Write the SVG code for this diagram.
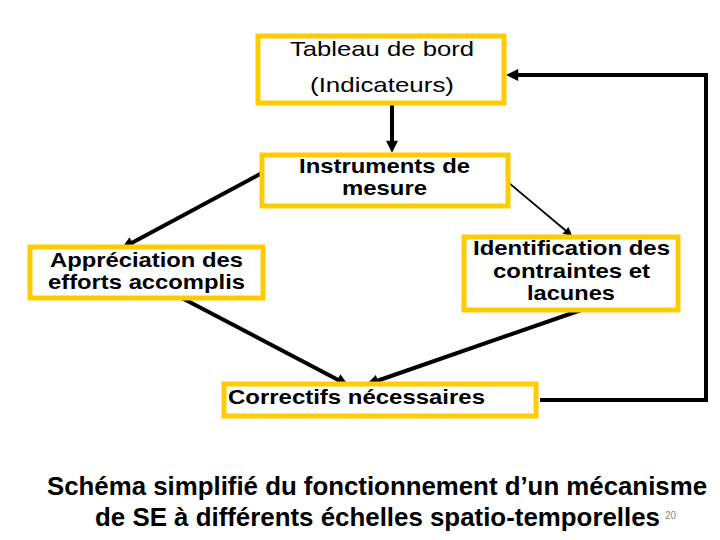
<svg xmlns="http://www.w3.org/2000/svg" width="720" height="540" viewBox="0 0 720 540">
<style>
.box{fill:#fff;stroke:#FFCC00;stroke-width:5}
.t{font-family:"Liberation Sans",Arial,sans-serif;font-size:21px;fill:#000}
.b{font-weight:bold}
.c{stroke:#000;fill:none;stroke-width:4}
.thin{stroke-width:1.8}
.cap{font-family:"Liberation Sans",Arial,sans-serif;font-weight:bold;font-size:26px;fill:#000}
</style>
<defs>
<marker id="ah" viewBox="0 0 10 10" refX="6" refY="5" markerWidth="14" markerHeight="12" markerUnits="userSpaceOnUse" orient="auto">
<path d="M0,0 L10,5 L0,10 z" fill="#000"/>
</marker>
<marker id="ahs" viewBox="0 0 10 10" refX="8" refY="5" markerWidth="11" markerHeight="9" markerUnits="userSpaceOnUse" orient="auto">
<path d="M0,0 L10,5 L0,10 z" fill="#000"/>
</marker>
</defs>
<rect width="720" height="540" fill="#fff"/>
<g id="connectors">
<line class="c" x1="392" y1="104" x2="392" y2="148" marker-end="url(#ah)"/>
<line class="c" x1="262" y1="173" x2="126" y2="246" marker-end="url(#ah)"/>
<line class="c thin" x1="503" y1="178" x2="571" y2="235" marker-end="url(#ahs)"/>
<line class="c" x1="180" y1="297" x2="344" y2="383" marker-end="url(#ah)"/>
<line class="c" x1="587" y1="308" x2="371" y2="383" marker-end="url(#ah)"/>
<polyline class="c" points="540,400 706,400 706,75 511,75" marker-end="url(#ah)"/>
</g>
<g id="tableau">
<rect class="box" x="258" y="36" width="246" height="67"/>
<text class="t" x="290" y="56" textLength="184" lengthAdjust="spacingAndGlyphs">Tableau de bord</text>
<text class="t" x="310" y="92" textLength="144" lengthAdjust="spacingAndGlyphs">(Indicateurs)</text>
</g>
<g id="instruments">
<rect class="box" x="262" y="155" width="246" height="51"/>
<text class="t b" x="299" y="173" textLength="171" lengthAdjust="spacingAndGlyphs">Instruments de</text>
<text class="t b" x="342" y="195" textLength="85" lengthAdjust="spacingAndGlyphs">mesure</text>
</g>
<g id="appreciation">
<rect class="box" x="30" y="247" width="233" height="51"/>
<text class="t b" x="50" y="267" textLength="193" lengthAdjust="spacingAndGlyphs">Appréciation des</text>
<text class="t b" x="48" y="289" textLength="197" lengthAdjust="spacingAndGlyphs">efforts accomplis</text>
</g>
<g id="identification">
<rect class="box" x="464" y="237" width="214" height="73"/>
<text class="t b" x="473" y="255" textLength="197" lengthAdjust="spacingAndGlyphs">Identification des</text>
<text class="t b" x="493" y="278" textLength="157" lengthAdjust="spacingAndGlyphs">contraintes et</text>
<text class="t b" x="527" y="300" textLength="88" lengthAdjust="spacingAndGlyphs">lacunes</text>
</g>
<g id="correctifs">
<rect class="box" x="224" y="384" width="312" height="32"/>
<text class="t b" x="228" y="404" textLength="257" lengthAdjust="spacingAndGlyphs">Correctifs nécessaires</text>
</g>
<g id="caption">
<text class="cap" x="47" y="495" textLength="660" lengthAdjust="spacingAndGlyphs">Schéma simplifié du fonctionnement d’un mécanisme</text>
<text class="cap" x="95" y="526" textLength="565" lengthAdjust="spacingAndGlyphs">de SE à différents échelles spatio-temporelles</text>
<text x="665" y="519" font-family="Liberation Sans, Arial, sans-serif" font-size="10" fill="#888">20</text>
</g>
</svg>
